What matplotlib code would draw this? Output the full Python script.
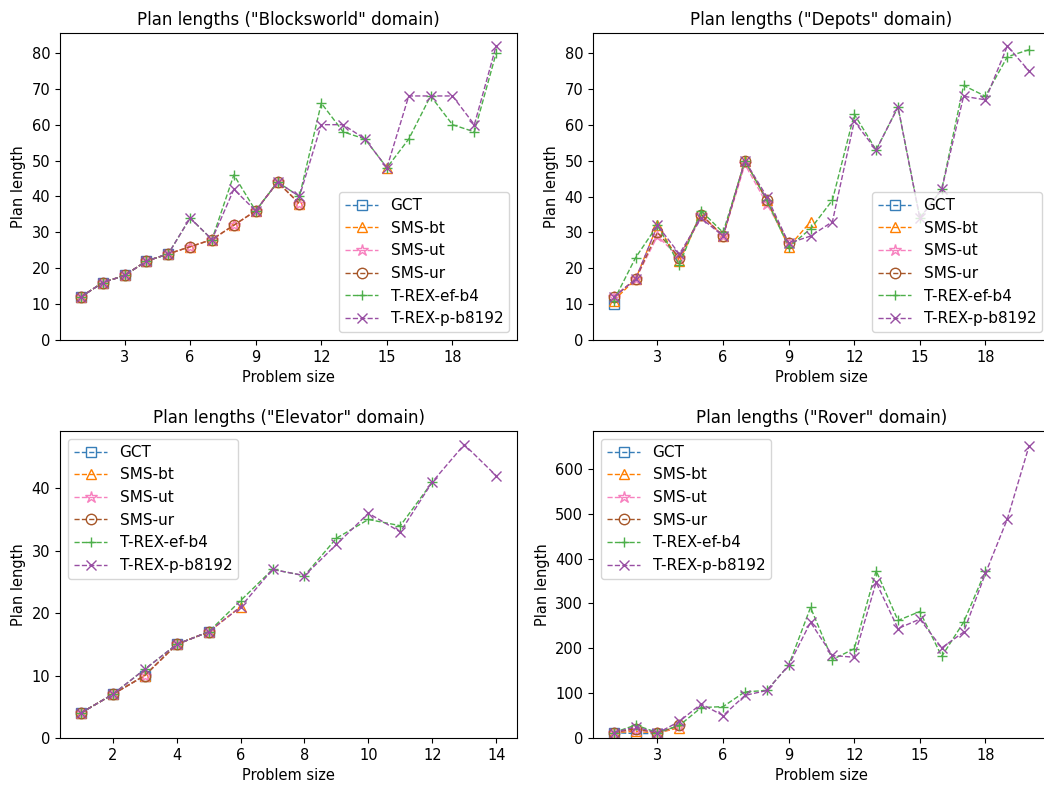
import numpy as np
import matplotlib
matplotlib.use("Agg")
import matplotlib.pyplot as plt

nan = np.nan

series_names = ["GCT", "SMS-bt", "SMS-ut", "SMS-ur", "T-REX-ef-b4", "T-REX-p-b8192"]
colors = ["#377eb8", "#ff7f00", "#f781bf", "#a65628", "#4daf4a", "#984ea3"]
markers = ["s", "^", "*", "o", "+", "x"]

# ---------------- Blocksworld ----------------
bw_x = list(range(1, 21))
bw_gct = [12, 16, 18, 22, 24] + [nan] * 15
bw_sms_bt = [12, 16, 18, 22, 24, 26, 28, 32, 36, 44, 38, nan, nan, nan, 48, nan, nan, nan, nan, nan]
bw_sms_ut = [12, 16, 18, 22, 24, 26, 28, 32, 36, 44, 38] + [nan] * 9
bw_sms_ur = [12, 16, 18, 22, 24, 26, 28, 32, 36, 44, 38] + [nan] * 9
bw_ef = [12, 16, 18, 22, 24, 34, 28, 46, 36, 44, 40, 66, 58, 56, 48, 56, 68, 60, 58, 80]
bw_p = [12, 16, 18, 22, 24, 34, 28, 42, 36, 44, 40, 60, 60, 56, 48, 68, 68, 68, 60, 82]
bw_xticks = [3, 6, 9, 12, 15, 18]
bw_yticks = [0, 10, 20, 30, 40, 50, 60, 70, 80]

# ---------------- Depots ----------------
dp_x = list(range(1, 21))
dp_gct = [10] + [nan] * 19
dp_sms_bt = [11, 17, 32, 22, 35, 29, 50, 39, 26, 33] + [nan] * 10
dp_sms_ut = [12, 17, 29, 23, 35, 29, 49, 38, 27] + [nan] * 11
dp_sms_ur = [12, 17, 30, 23, 35, 29, 50, 39, 27] + [nan] * 11
dp_ef = [11, 23, 32, 21, 36, 30, 50, 39, 26, 31, 39, 63, 53, 65, 34, 42, 71, 68, 79, 81]
dp_p = [12, 17, 32, 24, 34, 29, 50, 40, 27, 29, 33, 61, 53, 65, 34, 42, 68, 67, 82, 75]
dp_xticks = [3, 6, 9, 12, 15, 18]
dp_yticks = [0, 10, 20, 30, 40, 50, 60, 70, 80]

# ---------------- Elevator ----------------
el_x = list(range(1, 15))
el_gct = [4, 7, 10, 15, 17] + [nan] * 9
el_sms_bt = [4, 7, 10, 15, 17, 21] + [nan] * 8
el_sms_ut = [4, 7, 10, 15, 17] + [nan] * 9
el_sms_ur = [4, 7, 10, 15, 17] + [nan] * 9
el_ef = [4, 7, 11, 15, 17, 22, 27, 26, 32, 35, 34, 41, nan, nan]
el_p = [4, 7, 11, 15, 17, 21, 27, 26, 31, 36, 33, 41, 47, 42]
el_xticks = [2, 4, 6, 8, 10, 12, 14]
el_yticks = [0, 10, 20, 30, 40]

# ---------------- Rover ----------------
rv_x = list(range(1, 21))
rv_gct = [12, 10, 10] + [nan] * 17
rv_sms_bt = [12, 15, 11, 23] + [nan] * 16
rv_sms_ut = [12, 19, 11, 26] + [nan] * 16
rv_sms_ur = [12, 21, 11, 28] + [nan] * 16
rv_ef = [12, 29, 12, 28, 68, 70, 103, 106, 162, 291, 175, 199, 373, 262, 282, 182, 258, 372, nan, nan]
rv_p = [12, 25, 11, 37, 76, 50, 95, 106, 162, 258, 184, 180, 347, 244, 265, 201, 236, 367, 488, 652]
rv_xticks = [3, 6, 9, 12, 15, 18]
rv_yticks = [0, 100, 200, 300, 400, 500, 600]

panels = [
    ("Blocksworld", bw_x, [bw_gct, bw_sms_bt, bw_sms_ut, bw_sms_ur, bw_ef, bw_p], bw_xticks, bw_yticks, "lower right"),
    ("Depots", dp_x, [dp_gct, dp_sms_bt, dp_sms_ut, dp_sms_ur, dp_ef, dp_p], dp_xticks, dp_yticks, "lower right"),
    ("Elevator", el_x, [el_gct, el_sms_bt, el_sms_ut, el_sms_ur, el_ef, el_p], el_xticks, el_yticks, "upper left"),
    ("Rover", rv_x, [rv_gct, rv_sms_bt, rv_sms_ut, rv_sms_ur, rv_ef, rv_p], rv_xticks, rv_yticks, "upper left"),
]

fig = plt.figure(figsize=(10.44, 7.89), dpi=100)
rects = [
    [0.0575, 0.569, 0.4377, 0.389],
    [0.568, 0.569, 0.4377, 0.389],
    [0.0575, 0.0646, 0.4377, 0.389],
    [0.568, 0.0646, 0.4377, 0.389],
]

for rect, (domain, xs, ys_list, xt, yt, loc) in zip(rects, panels):
    ax = fig.add_axes(rect)
    for name, ys, c, m in zip(series_names, ys_list, colors, markers):
        ms = 9 if m == "*" else 7.5
        ax.plot(xs, np.array(ys, dtype=float), linestyle="--", color=c, marker=m,
                markersize=ms, markerfacecolor="none", markeredgecolor=c,
                linewidth=1.0, label=name)
    ax.set_title('Plan lengths ("%s" domain)' % domain, fontsize=12)
    ax.set_xlabel("Problem size", fontsize=10.5)
    ax.set_ylabel("Plan length", fontsize=10.5)
    ax.set_xticks(xt)
    ax.set_yticks(yt)
    ax.tick_params(labelsize=10.5)
    ax.set_ylim(bottom=0)
    ax.legend(loc=loc, fontsize=11, handlelength=2.2)

fig.savefig("out.png", dpi=100)
